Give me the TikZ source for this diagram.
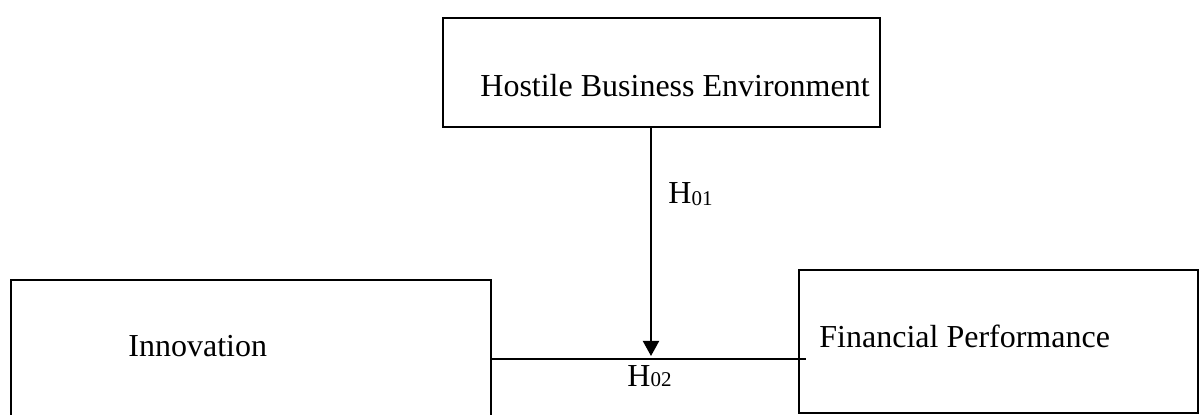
\documentclass[tikz,border=0pt]{standalone}
\usepackage{fontspec}
\setmainfont{Liberation Serif}
\usetikzlibrary{arrows.meta}
\tikzset{
  box/.style={draw=black, line width=1pt, rectangle, inner sep=0pt},
  lbl/.style={anchor=base west, inner sep=0pt, font=\fontsize{16}{19}\selectfont},
  conn/.style={draw=black, line width=1pt},
}
\newcommand{\smalldig}[1]{{\fontsize{10.5}{12}\selectfont #1}}
\begin{document}
\begin{tikzpicture}[x=0.5pt, y=-0.5pt]
\useasboundingbox (0,0) rectangle (1200,415);
% boxes
\node[box, minimum width=218.5pt, minimum height=54.5pt] (hbe) at (661.5,72.5) {};
\node[box, minimum width=240pt, minimum height=75pt] (inn) at (251,355) {};
\node[box, minimum width=199.5pt, minimum height=71.5pt] (fp) at (998.5,341.5) {};
% texts
\node[lbl] (thbe) at (480,97) {Hostile Business Environment};
\node[lbl] (tinn) at (128,357) {Innovation};
\node[lbl] (tfp) at (819,348) {Financial Performance};
\node[lbl] (h01) at (668,204) {H\raisebox{-1pt}{\smalldig{01}}};
\node[lbl] (h02) at (627,387) {H\smalldig{02}};
% connectors
\coordinate (top) at (651,127);
\coordinate (tip) at (651,356);
\coordinate (lend) at (806,359);
\draw[conn] (inn.east |- lend) -- (lend);
\draw[conn, -{Triangle[length=7.5pt,width=8pt]}] (top) -- (tip);
\end{tikzpicture}
\end{document}
